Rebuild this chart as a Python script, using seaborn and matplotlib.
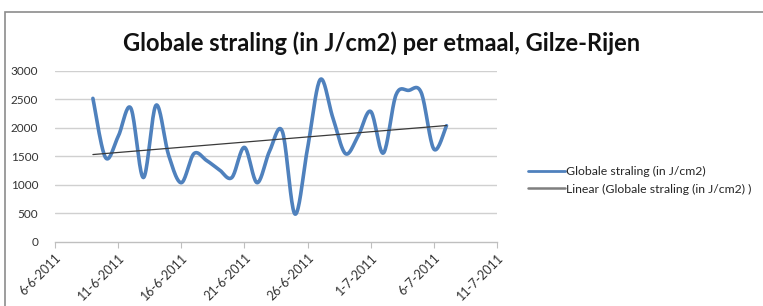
import numpy as np
import pandas as pd
import matplotlib
matplotlib.use("Agg")
import matplotlib.pyplot as plt
import matplotlib.dates as mdates
import seaborn as sns

# daily values
datums = pd.date_range("2011-06-09", "2011-07-07", freq="D")
straling = [2520, 1480, 1850, 2350, 1130, 2400, 1520, 1040, 1550, 1430,
            1270, 1130, 1660, 1040, 1600, 1940, 490, 1650, 2850, 2180,
            1550, 1860, 2290, 1560, 2580, 2660, 2620, 1630, 2040]
tick_datums = pd.date_range("2011-06-06", "2011-07-11", freq="5D")
y_ticks = [0, 500, 1000, 1500, 2000, 2500, 3000]

reeks_naam = "Globale straling (in J/cm2)"
trend_naam = "Linear (Globale straling (in J/cm2) )"
titel = "Globale straling (in J/cm2) per etmaal, Gilze-Rijen"

blauw = "#4F81BD"


def fx_glad(x, y, n=20):
    """Excel-achtige gladde lijn (Bezier / Catmull-Rom) door de punten"""
    x = np.asarray(x, float)
    y = np.asarray(y, float)
    px = np.concatenate([[x[0]], x, [x[-1]]])
    py = np.concatenate([[y[0]], y, [y[-1]]])
    xs, ys = [], []
    t = np.linspace(0, 1, n, endpoint=False)
    for i in range(1, len(px) - 2):
        p0x, p1x, p2x, p3x = px[i - 1], px[i], px[i + 1], px[i + 2]
        p0y, p1y, p2y, p3y = py[i - 1], py[i], py[i + 1], py[i + 2]
        c1x, c1y = p1x + (p2x - p0x) / 6, p1y + (p2y - p0y) / 6
        c2x, c2y = p2x - (p3x - p1x) / 6, p2y - (p3y - p1y) / 6
        b0, b1, b2, b3 = (1 - t) ** 3, 3 * (1 - t) ** 2 * t, 3 * (1 - t) * t ** 2, t ** 3
        xs.append(b0 * p1x + b1 * c1x + b2 * c2x + b3 * p2x)
        ys.append(b0 * p1y + b1 * c1y + b2 * c2y + b3 * p2y)
    xs.append([x[-1]])
    ys.append([y[-1]])
    return np.concatenate(xs), np.concatenate(ys)


sns.set_style("white")
plt.rcParams["font.family"] = ["Lato", "DejaVu Sans"]

df = pd.DataFrame({"datum": mdates.date2num(datums), "straling": straling})
gx, gy = fx_glad(df["datum"], df["straling"])

fig = plt.figure(figsize=(7.63, 3.06), dpi=100)
ax = fig.add_axes([0.0721, 0.2092, 0.5793, 0.5588])

for y in y_ticks[1:]:
    ax.axhline(y, color="#d0d0d0", lw=1.0, zorder=0)

sns.lineplot(x=gx, y=gy, ax=ax, color=blauw, lw=2.6, estimator=None, sort=False,
             label=reeks_naam, solid_capstyle="round")
sns.regplot(data=df, x="datum", y="straling", ax=ax, scatter=False, ci=None, truncate=True,
            label=trend_naam, line_kws={"color": "#3a3a3a", "lw": 0.9})

ax.set_xlim(mdates.date2num(tick_datums[0]), mdates.date2num(tick_datums[-1]))
ax.set_ylim(0, 3000)
ax.set_xticks(mdates.date2num(tick_datums))
ax.set_xticklabels([f"{d.day}-{d.month}-{d.year}" for d in tick_datums],
                   rotation=45, ha="right", va="top", rotation_mode="anchor", fontsize=9, color="#333333")
ax.set_yticks(y_ticks)
ax.set_yticklabels([str(v) for v in y_ticks], fontsize=8.5, color="#333333")
ax.tick_params(axis="x", length=4, width=0.8, color="#bfbfbf", direction="out", pad=3, bottom=True)
ax.tick_params(axis="y", length=0, pad=12)
ax.set_xlabel("")
ax.set_ylabel("")
for s in ["top", "right", "left"]:
    ax.spines[s].set_visible(False)
ax.spines["bottom"].set_color("#bfbfbf")
ax.spines["bottom"].set_linewidth(1.0)

leg = ax.legend(loc="center left", bbox_to_anchor=(0.692, 0.41), bbox_transform=fig.transFigure,
                frameon=False, fontsize=8.8, handlelength=3.0, handletextpad=0.15, labelspacing=0.5,
                borderpad=0, borderaxespad=0)
leg_lijnen = leg.get_lines()
leg_lijnen[0].set_linewidth(2.0)
leg_lijnen[1].set_linewidth(1.8)
leg_lijnen[1].set_color("#7f7f7f")

fig.text(0.5, 0.86, titel, ha="center", va="center", fontsize=17, fontweight="bold", color="#111111")

# grijze kader rond de grafiek
fig.patches.append(plt.Rectangle((0.006, -0.02), 1.0, 0.98, transform=fig.transFigure,
                                 fill=False, edgecolor="#8c8c8c", lw=1.2))

fig.savefig("out.png", dpi=100)
